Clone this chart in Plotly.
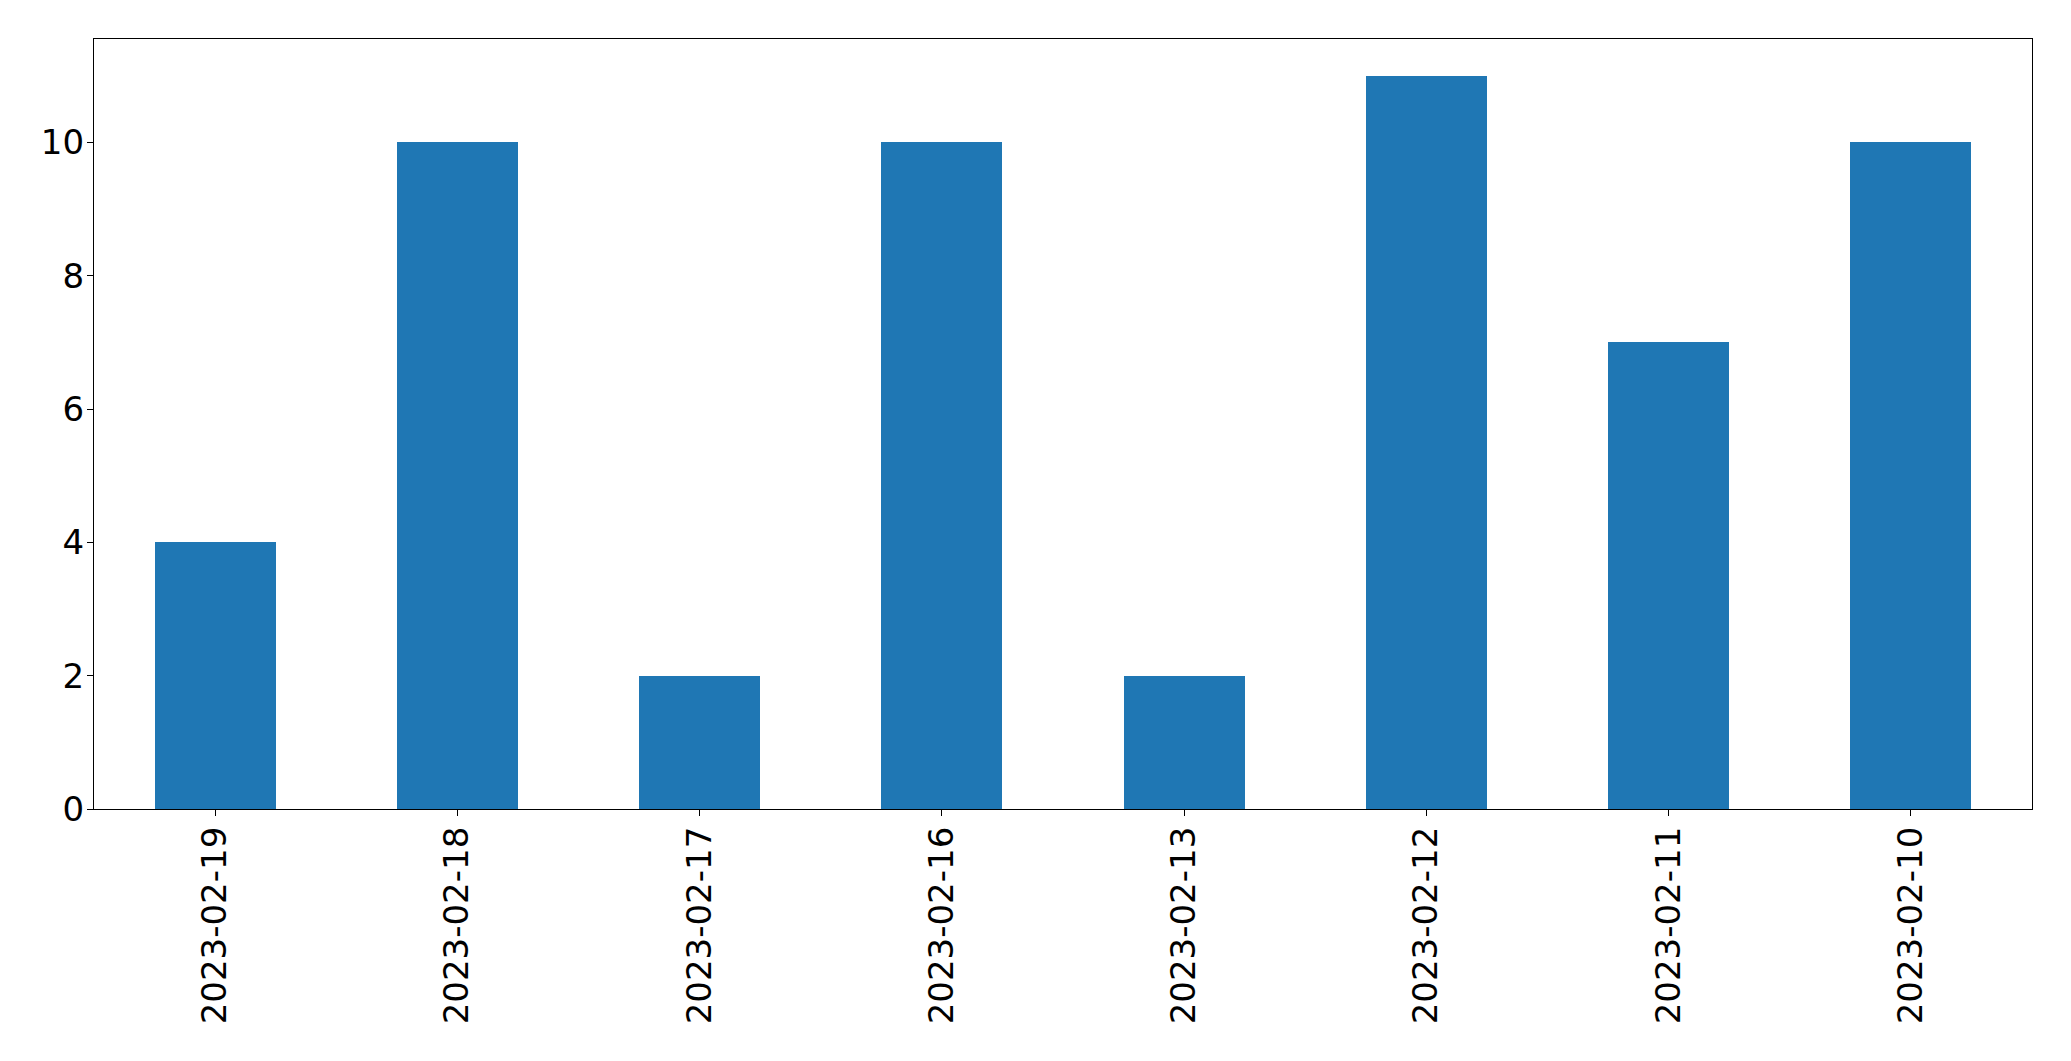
import plotly.graph_objects as go

dates = ["2023-02-19", "2023-02-18", "2023-02-17", "2023-02-16",
         "2023-02-13", "2023-02-12", "2023-02-11", "2023-02-10"]
counts = [4, 10, 2, 10, 2, 11, 7, 10]
y_ticks = [0, 2, 4, 6, 8, 10]

fig = go.Figure(go.Bar(x=dates, y=counts, width=0.5, marker=dict(color="#1f77b4", line=dict(width=0))))

font = dict(family="DejaVu Sans", size=34, color="black")
fig.update_layout(
    width=2063, height=1053,
    margin=dict(l=86, r=39, t=31, b=252, autoexpand=False),
    paper_bgcolor="white", plot_bgcolor="white",
    showlegend=False, font=font,
    bargap=0,
)
fig.update_xaxes(
    type="category", range=[-0.5, len(dates) - 0.5],
    showline=True, linecolor="black", linewidth=1.3, mirror=True,
    ticks="outside", ticklen=6, tickwidth=1.3, tickcolor="black",
    tickangle=-90, showgrid=False, zeroline=False, tickfont=font,
    ticklabelstandoff=-3,
)
fig.update_yaxes(
    range=[0, 11.55], tickvals=y_ticks,
    showline=True, linecolor="black", linewidth=1.3, mirror=True,
    ticks="outside", ticklen=6, tickwidth=1.3, tickcolor="black",
    showgrid=False, zeroline=False, tickfont=font,
    ticklabelstandoff=-4,
)
fig.write_html("out.html")
